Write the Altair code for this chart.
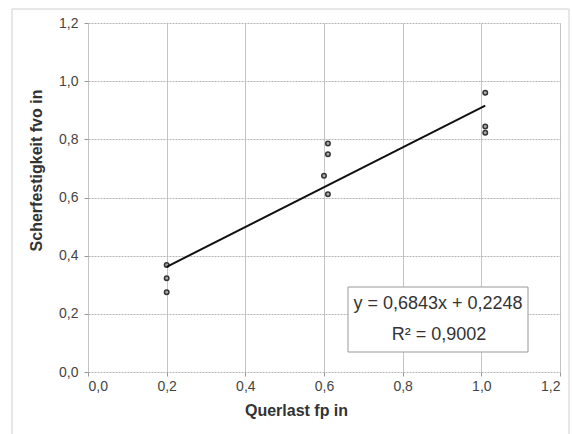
import altair as alt
import pandas as pd

# Data
x_vals = [0.2, 0.2, 0.2, 0.60, 0.61, 0.61, 0.61, 1.01, 1.01, 1.01]
y_vals = [0.368, 0.322, 0.274, 0.675, 0.786, 0.749, 0.611, 0.960, 0.844, 0.823]

slope = 0.6843
intercept = 0.2248
fit_x_range = [0.2, 1.01]

eq_lines = ["y = 0,6843x + 0,2248", "R² = 0,9002"]
tick_values = [0.0, 0.2, 0.4, 0.6, 0.8, 1.0, 1.2]

FONT = "Liberation Sans"

pts = pd.DataFrame({"x": x_vals, "y": y_vals})
fit = pd.DataFrame({"x": fit_x_range, "y": [slope * v + intercept for v in fit_x_range]})

label_expr = "replace(format(datum.value, '.1f'), '.', ',')"

xscale = alt.Scale(domain=[0, 1.2], nice=False, zero=False)
yscale = alt.Scale(domain=[0, 1.2], nice=False, zero=False)

xaxis = alt.Axis(
    title="Querlast fp in", values=tick_values, labelExpr=label_expr,
    grid=True, gridColor="#c4c4c4", gridWidth=1,
    domain=False, tickColor="#999", tickSize=4,
    labelFont=FONT, labelFontSize=14, labelColor="#444", labelPadding=3,
    titleFont=FONT, titleFontSize=16, titleFontWeight="bold", titleColor="#333",
    titleX=208, titleY=38, titleBaseline="middle", titleAlign="center",
)
yaxis = alt.Axis(
    title="Scherfestigkeit fvo in", values=tick_values, labelExpr=label_expr,
    grid=True, gridColor="#b4b4b4", gridWidth=1, gridDash=[2, 1],
    domain=False, tickColor="#999", tickSize=4,
    labelFont=FONT, labelFontSize=14, labelColor="#444", labelPadding=6,
    titleFont=FONT, titleFontSize=16, titleFontWeight="bold", titleColor="#333",
    titleX=-52, titleY=147, titleAngle=-90, titleBaseline="middle", titleAlign="center",
)

border = alt.Chart(pd.DataFrame({"k": [0]})).mark_rect(
    fill=None, stroke="#cfcfcf", strokeWidth=1
).encode(x=alt.value(-76), x2=alt.value(481), y=alt.value(-14), y2=alt.value(430))

points = alt.Chart(pts).mark_point(
    shape="circle", size=20, filled=False, stroke="#333", strokeWidth=1.5, fill="#aaa", fillOpacity=1
).encode(
    x=alt.X("x:Q", scale=xscale, axis=xaxis),
    y=alt.Y("y:Q", scale=yscale, axis=yaxis),
)

line = alt.Chart(fit).mark_line(color="#111", strokeWidth=2).encode(
    x=alt.X("x:Q", scale=xscale),
    y=alt.Y("y:Q", scale=yscale),
)

box = alt.Chart(pd.DataFrame({"k": [0]})).mark_rect(
    fill="white", stroke="#999", strokeWidth=1
).encode(x=alt.value(260), x2=alt.value(440), y=alt.value(264), y2=alt.value(329))

txt1 = alt.Chart(pd.DataFrame({"t": [eq_lines[0]]})).mark_text(
    font=FONT, fontSize=18, color="#333", align="center", baseline="middle"
).encode(text="t:N", x=alt.value(350), y=alt.value(281))
txt2 = alt.Chart(pd.DataFrame({"t": [eq_lines[1]]})).mark_text(
    font=FONT, fontSize=18, color="#333", align="center", baseline="middle"
).encode(text="t:N", x=alt.value(351), y=alt.value(312))

chart = alt.layer(border, points, line, box, txt1, txt2).properties(
    width=472, height=349,
    autosize=alt.AutoSizeParams(type="none"),
    padding={"left": 88, "top": 23, "right": 12, "bottom": 62},
    background="white",
).configure_view(stroke=None)

chart.save("out.html", embed_options={"renderer": "svg", "actions": False})
